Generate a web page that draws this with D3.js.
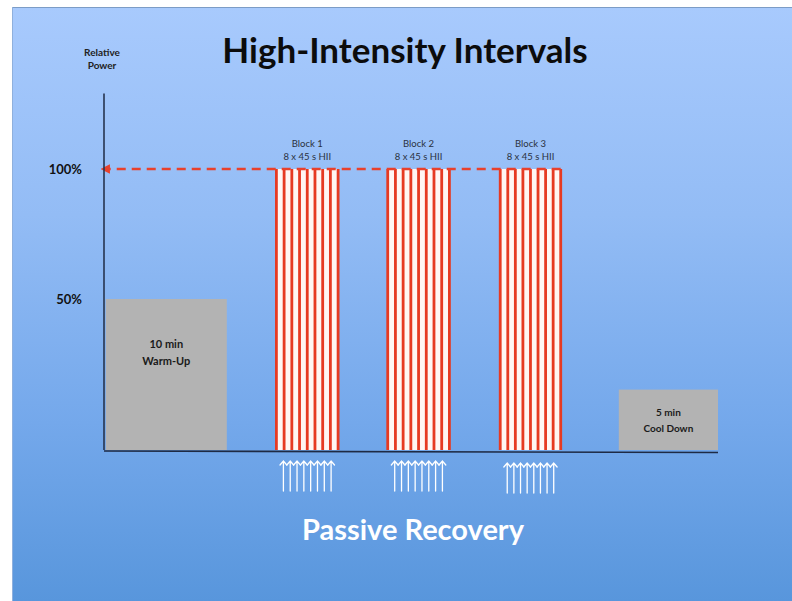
<!DOCTYPE html>
<html>
<head>
<meta charset="utf-8">
<script src="https://cdn.jsdelivr.net/npm/d3@7"></script>
<style>
  html, body { margin: 0; padding: 0; background: #ffffff; }
  svg { display: block; }
  text { font-family: Lato, "Open Sans", sans-serif; }
</style>
</head>
<body>
<svg id="chart" width="792" height="601"></svg>
<script>
// ---- Session plan (timeline units ≈ minutes on a schematic axis) ----
const titleText = "High-Intensity Intervals";
const yAxisTitle = ["Relative", "Power"];
const yTickValues = [50, 100];
const yTickLabels = ["50%", "100%"];

const steadyLabels = [["10 min", "Warm-Up"], ["5 min", "Cool Down"]];
const steadyStart = [0, 42.4];
const steadyEnd = [10, 50.6];
const steadyPower = [50, 20];

const blockNames = ["Block 1", "Block 2", "Block 3"];
const blockDetails = ["8 x 45 s HII", "8 x 45 s HII", "8 x 45 s HII"];
const blockStart = [14.1, 23.3, 32.6];
const blockEnd = [19.2, 28.4, 37.6];
const intervalsPerBlock = 8;
const intervalPower = 100;

const recoveryText = "Passive Recovery";
const timelineMax = 50.6;
const powerMax = 129;

// ---- Layout ----
const svg = d3.select("#chart");
const W = 792, H = 601;

const x = d3.scaleLinear().domain([-0.15, timelineMax]).range([104, 718]);
// schematic power axis: the drawn spacing is not uniform between 0-50-100
const y = d3.scaleLinear().domain([0, 50, 100]).range([450, 299, 169]);

// background panel with vertical gradient
const defs = svg.append("defs");
const grad = defs.append("linearGradient")
  .attr("id", "bg").attr("x1", 0).attr("y1", 0).attr("x2", 0).attr("y2", 1);
grad.append("stop").attr("offset", "0%").attr("stop-color", "#a8cafd");
grad.append("stop").attr("offset", "35%").attr("stop-color", "#93bcf5");
grad.append("stop").attr("offset", "70%").attr("stop-color", "#74a8eb");
grad.append("stop").attr("offset", "100%").attr("stop-color", "#5896dc");

svg.append("rect").attr("x", 12).attr("y", 7).attr("width", W - 12).attr("height", H - 7)
  .attr("fill", "url(#bg)");
svg.append("line").attr("x1", 12).attr("x2", W).attr("y1", 7.5).attr("y2", 7.5)
  .attr("stroke", "#7c9cc6").attr("stroke-width", 1);
svg.append("line").attr("x1", 12.5).attr("x2", 12.5).attr("y1", 7).attr("y2", H)
  .attr("stroke", "#8fb0dd").attr("stroke-width", 1);

defs.append("marker")
  .attr("id", "redArrow").attr("viewBox", "0 0 10 10")
  .attr("refX", 1).attr("refY", 5)
  .attr("markerWidth", 3.6).attr("markerHeight", 3.6)
  .attr("orient", "auto-start-reverse")
  .append("path").attr("d", "M0,0 L10,5 L0,10 Z").attr("fill", "#e8412c");

// title
svg.append("text").attr("x", 405).attr("y", 63)
  .attr("text-anchor", "middle").attr("font-size", 35).attr("font-weight", 700)
  .attr("fill", "#0c0c0c").text(titleText);

// y axis title
svg.append("g").selectAll("text").data(yAxisTitle).join("text")
  .attr("x", 102).attr("y", (d, i) => 56 + i * 12.5)
  .attr("text-anchor", "middle").attr("font-size", 10).attr("font-weight", 700)
  .attr("fill", "#222").text(d => d);

// y tick labels
svg.append("g").selectAll("text").data(yTickValues).join("text")
  .attr("x", 82).attr("y", d => y(d) + 4.5)
  .attr("text-anchor", "end").attr("font-size", 13).attr("font-weight", 700)
  .attr("fill", "#111").text((d, i) => yTickLabels[i]);

// steady-state efforts (warm-up and cool-down)
const steady = svg.append("g");
steadyLabels.forEach((lab, i) => {
  const x0 = x(steadyStart[i]), x1 = x(steadyEnd[i]);
  steady.append("rect")
    .attr("x", x0).attr("y", y(steadyPower[i]))
    .attr("width", x1 - x0).attr("height", y(0) - y(steadyPower[i]))
    .attr("fill", "#b3b3b3");
  const cy = (y(steadyPower[i]) + y(0)) / 2;
  const offs = i === 0 ? [-31, -14] : [-8, 8];
  steady.selectAll(null).data(lab).join("text")
    .attr("x", (x0 + x1) / 2).attr("y", (d, j) => cy + offs[j] + 4)
    .attr("text-anchor", "middle").attr("font-size", i === 0 ? 11 : 10).attr("font-weight", 700)
    .attr("fill", "#1a1a1a").text(d => d);
});

// interval blocks: white work bouts separated by red edges
const arrowLen = 30;
blockNames.forEach((name, b) => {
  const g = svg.append("g");
  const band = d3.scaleBand().domain(d3.range(intervalsPerBlock))
    .range([x(blockStart[b]), x(blockEnd[b])]).padding(0);
  g.selectAll("rect").data(d3.range(intervalsPerBlock)).join("rect")
    .attr("x", d => band(d)).attr("y", y(intervalPower))
    .attr("width", band.bandwidth()).attr("height", y(0) - y(intervalPower))
    .attr("fill", "#fff6f3");
  const edges = d3.range(intervalsPerBlock + 1).map(i => x(blockStart[b]) + i * band.bandwidth());
  g.selectAll("line").data(edges).join("line")
    .attr("x1", d => d).attr("x2", d => d)
    .attr("y1", y(intervalPower)).attr("y2", y(0))
    .attr("stroke", "#e63a22").attr("stroke-width", 2.8);

  const cx = (x(blockStart[b]) + x(blockEnd[b])) / 2;
  g.selectAll("text").data([name, blockDetails[b]]).join("text")
    .attr("x", cx).attr("y", (d, i) => 146.5 + i * 13)
    .attr("text-anchor", "middle").attr("font-size", 9.5)
    .attr("fill", "#2a3140").text(d => d);

  // recovery arrows beneath each interval
  const pts = d3.scalePoint().domain(d3.range(intervalsPerBlock))
    .range([x(blockStart[b]) + 7, x(blockEnd[b]) - 7]);
  const top = 461 + (b === 2 ? 2 : 0);
  const arrows = g.append("g").attr("fill", "none").attr("stroke", "#ffffff")
    .attr("stroke-width", 1.3).attr("stroke-linecap", "round");
  arrows.selectAll("path").data(d3.range(intervalsPerBlock)).join("path")
    .attr("d", d => {
      const px = pts(d);
      return `M${px},${top + arrowLen} L${px},${top} M${px - 3.4},${top + 4} L${px},${top} L${px + 3.4},${top + 4}`;
    });
});

// 100% target reference line, drawn across the tops of the blocks
svg.append("line")
  .attr("x1", x(blockEnd[2])).attr("x2", x(-0.15) + 5)
  .attr("y1", y(intervalPower)).attr("y2", y(intervalPower))
  .attr("stroke", "#e8412c").attr("stroke-width", 2.6)
  .attr("stroke-dasharray", "9,6")
  .attr("marker-end", "url(#redArrow)");

// axes
svg.append("line").attr("x1", x(-0.15)).attr("x2", x(-0.15))
  .attr("y1", y(powerMax)).attr("y2", y(0))
  .attr("stroke", "#26344f").attr("stroke-width", 1.6);
svg.append("line").attr("x1", x(-0.15)).attr("x2", x(timelineMax))
  .attr("y1", y(0) + 1).attr("y2", y(0) + 2.5)
  .attr("stroke", "#1e2a44").attr("stroke-width", 1.6);

// recovery caption
svg.append("text").attr("x", 413).attr("y", 540)
  .attr("text-anchor", "middle").attr("font-size", 29).attr("font-weight", 700)
  .attr("fill", "#ffffff").text(recoveryText);
</script>
</body>
</html>
